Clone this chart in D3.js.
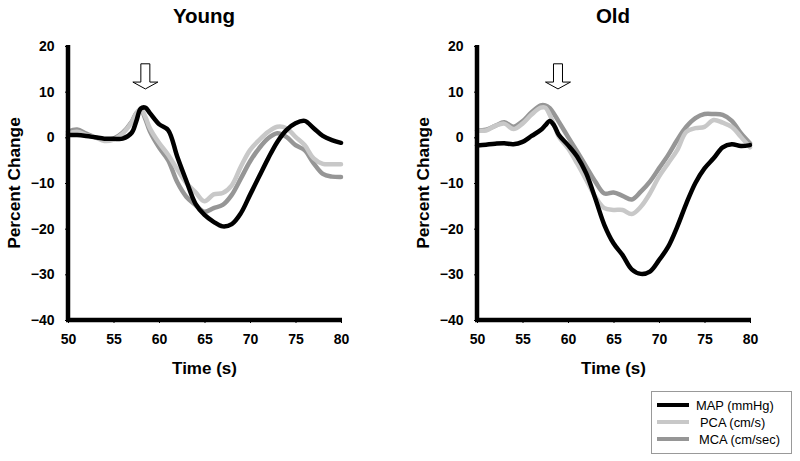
<!DOCTYPE html>
<html><head><meta charset="utf-8">
<script src="https://cdn.jsdelivr.net/npm/d3@7"></script>
<style>body{margin:0;background:#fff}svg{display:block;font-family:"Liberation Sans",Arial,sans-serif}</style>
</head><body><svg id="c" width="800" height="461"></svg>
<script>
const times = [50,51,52,53,54,55,56,57,57.5,58,58.5,59,60,61,62,63,64,65,66,67,68,69,70,71,72,73,74,75,76,77,78,79,80];
const youngMAP = [0.5,0.5,0.3,0,-0.3,-0.3,-0.3,1.0,3.5,6.3,6.5,5.3,2.9,1.6,-4.2,-9.5,-14.5,-17,-18.5,-19.5,-19,-16.6,-12.6,-8.6,-4.6,-1,1.6,3.1,3.6,2,0.3,-0.6,-1.2];
const youngPCA = [0.8,1.2,0.5,0,-0.8,-0.5,0.8,3.3,5.2,6.2,4.5,2,-1.2,-3.8,-7,-10,-12,-14,-12.5,-12.2,-10.5,-6.4,-2.8,-0.6,1.2,2.3,2,0.1,-1.7,-4.6,-5.8,-5.9,-5.9];
const youngMCA = [1.2,1.7,0.8,0,-0.5,-0.3,1,3.4,5.3,6,4,1.3,-2.2,-5,-9.8,-13,-14.8,-16.3,-15.5,-14.8,-12.6,-9,-5.3,-2.4,-0.2,0.9,0.1,-1.7,-2.8,-5.7,-8,-8.6,-8.7];
const oldMAP = [-1.8,-1.6,-1.4,-1.3,-1.5,-1,0.3,1.6,2.6,3.6,2.5,0.5,-1.7,-4.2,-7.9,-13.4,-19.2,-23.2,-25.8,-28.9,-29.9,-29.4,-26.9,-24,-19.6,-14.5,-10,-6.8,-4.6,-2.2,-1.5,-1.9,-1.7];
const oldPCA = [1.5,1.5,2.5,3,1.8,3,5,6.5,6.5,4.9,2.5,0.1,-2.4,-5.7,-9.3,-13,-15.5,-15.9,-15.9,-16.8,-15.2,-12.3,-8.6,-5.7,-2.8,1.2,2,2.3,3.8,3.2,2.3,0.1,-2.2];
const oldMCA = [1.5,1.7,2.5,3.3,2.3,3.5,5.5,7,7,6.4,5,3.4,0.1,-3.1,-6.4,-9.7,-12.3,-12.1,-12.8,-13.6,-11.9,-9.7,-6.8,-3.9,-0.6,2.3,4.2,5.1,5.1,4.9,3.6,0.9,-1.3];
const xTicks = [50,55,60,65,70,75,80];
const yTicks = [20,10,0,-10,-20,-30,-40];
const panelTitles = ["Young","Old"];
const arrowTimes = [58.5, 58.9];
const seriesNames = ["MAP (mmHg)","PCA (cm/s)","MCA (cm/sec)"];
const seriesColors = ["#000000","#c8c8c8","#969696"];

const panels = [
  {title: panelTitles[0], data:[youngMAP,youngPCA,youngMCA], left:68, right:341, arrow: arrowTimes[0]},
  {title: panelTitles[1], data:[oldMAP,oldPCA,oldMCA], left:477, right:750, arrow: arrowTimes[1]}
];
const svg = d3.select("#c");
const plotTop = 46, plotBottom = 320;

panels.forEach(p => {
  const x = d3.scaleLinear().domain([50,80]).range([p.left,p.right]);
  const y = d3.scaleLinear().domain([-40,20]).range([plotBottom,plotTop]);
  const g = svg.append("g");
  const line = d3.line().x((d,i)=>x(times[i])).y(d=>y(d)).curve(d3.curveCatmullRom.alpha(0.5));
  [2,1,0].forEach(k => {
    g.append("path").attr("d", line(p.data[k])).attr("fill","none")
      .attr("stroke", seriesColors[k]).attr("stroke-width",4.5)
      .attr("stroke-linejoin","round").attr("stroke-linecap","round");
  });
  const ya = g.append("g").attr("transform",`translate(${p.left},0)`)
    .call(d3.axisLeft(y).tickValues(yTicks).tickSize(3).tickPadding(10.5).tickFormat(d3.format("d")));
  const xa = g.append("g").attr("transform",`translate(0,${plotBottom})`)
    .call(d3.axisBottom(x).tickValues(xTicks).tickSize(3).tickPadding(11));
  [ya,xa].forEach(a=>{
    a.select(".domain").attr("stroke","#000").attr("stroke-width",4.5);
    a.selectAll(".tick line").attr("stroke","#000").attr("stroke-width",1);
    a.selectAll("text").attr("font-family","'Liberation Sans',Arial,sans-serif")
      .attr("font-weight","bold").attr("font-size",14).attr("fill","#000");
  });
  ya.select(".domain").attr("d",`M0,${plotTop-1}V${plotBottom}`);
  xa.select(".domain").attr("d",`M${p.left-2},0H${p.right+1}`);
  g.append("text").attr("x",(p.left+p.right)/2 - 0.5).attr("y",23).attr("text-anchor","middle")
    .attr("font-weight","bold").attr("font-size",20.5).text(p.title);
  g.append("text").attr("x",(p.left+p.right)/2).attr("y",374).attr("text-anchor","middle")
    .attr("font-weight","bold").attr("font-size",17).text("Time (s)");
  g.append("text").attr("transform",`translate(${p.left-48.5},${(plotTop+plotBottom)/2}) rotate(-90)`)
    .attr("text-anchor","middle").attr("font-weight","bold").attr("font-size",17.3).text("Percent Change");
  const cx = x(p.arrow), yt = y(16.1), yh = y(12.1), yb = y(10.6);
  g.append("path").attr("d",`M${cx-4.5},${yt}H${cx+4.5}V${yh}H${cx+12.5}L${cx},${yb}L${cx-12.5},${yh}H${cx-4.5}Z`)
    .attr("fill","#fff").attr("stroke","#000").attr("stroke-width",1);
});

const lg = svg.append("g");
lg.append("rect").attr("x",651.5).attr("y",391.5).attr("width",140).attr("height",62)
  .attr("fill","#fff").attr("stroke","#999").attr("stroke-width",1);
const textX = [696,700,699];
seriesNames.forEach((n,i)=>{
  const yy = 405 + i*17;
  lg.append("line").attr("x1",657).attr("x2",689).attr("y1",yy).attr("y2",yy)
    .attr("stroke",seriesColors[i]).attr("stroke-width",4);
  lg.append("text").attr("x",textX[i]).attr("y",yy+4.5).attr("font-size",12.9).text(n);
});
</script></body></html>
